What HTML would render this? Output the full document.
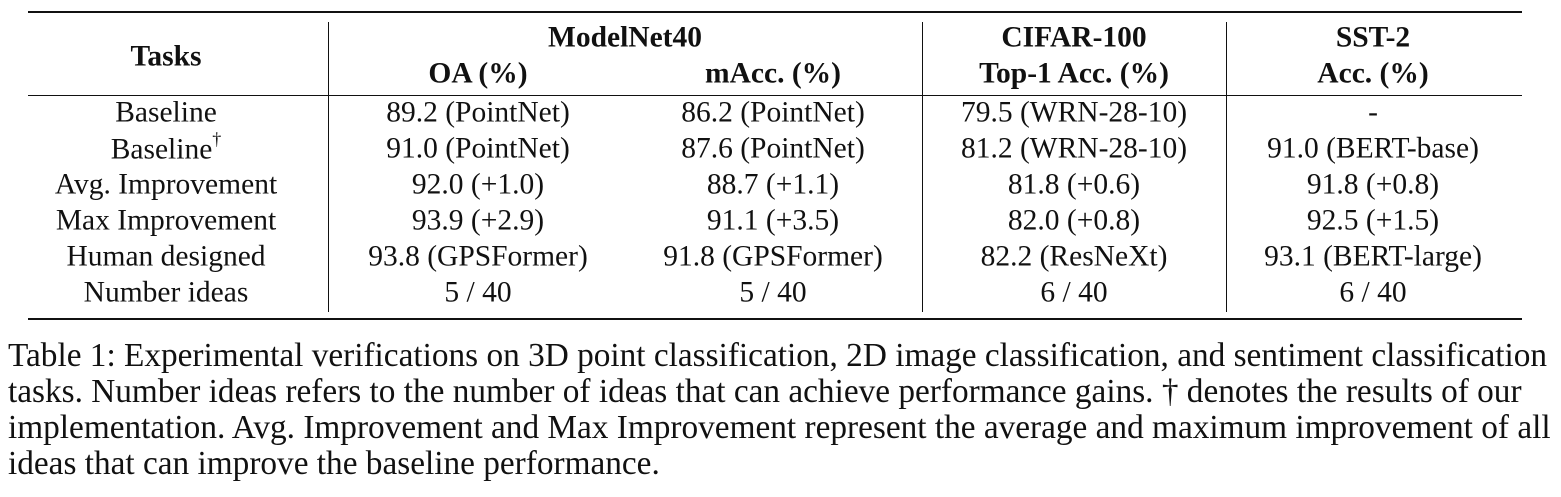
<!DOCTYPE html>
<html><head><meta charset="utf-8"><style>
body{margin:0;width:1561px;height:497px;background:#fff;position:relative;font-family:"Liberation Serif",serif;color:#111;overflow:hidden}
.t{position:absolute;font-size:29.5px;white-space:nowrap;transform:translate(-50%,-50%);line-height:1}
.b{font-weight:bold}
.r{position:absolute;background:#111}
.c{position:absolute;left:8px;font-size:33.3px;white-space:nowrap;line-height:1}
</style></head><body>
<div class="r" style="left:28px;top:11px;width:1494px;height:2px"></div>
<div class="r" style="left:28px;top:95px;width:1494px;height:1px"></div>
<div class="r" style="left:28px;top:318px;width:1494px;height:2px"></div>
<div class="r" style="left:328px;top:22px;width:1px;height:290px"></div>
<div class="r" style="left:922px;top:22px;width:1px;height:290px"></div>
<div class="r" style="left:1226px;top:22px;width:1px;height:290px"></div>
<div class="t b" style="left:166px;top:57px">Tasks</div>
<div class="t b" style="left:625px;top:38px">ModelNet40</div>
<div class="t b" style="left:1074px;top:38px">CIFAR-100</div>
<div class="t b" style="left:1373px;top:38px">SST-2</div>
<div class="t b" style="left:478px;top:74px">OA (%)</div>
<div class="t b" style="left:773px;top:74px">mAcc. (%)</div>
<div class="t b" style="left:1074px;top:74px">Top-1 Acc. (%)</div>
<div class="t b" style="left:1373px;top:74px">Acc. (%)</div>
<div id="rows"></div>
<div class="c" style="top:339px">Table 1: Experimental verifications on 3D point classification, 2D image classification, and sentiment classification</div>
<div class="c" style="top:375px">tasks. Number ideas refers to the number of ideas that can achieve performance gains. † denotes the results of our</div>
<div class="c" style="top:411px">implementation. Avg. Improvement and Max Improvement represent the average and maximum improvement of all</div>
<div class="c" style="top:447px">ideas that can improve the baseline performance.</div>
<script>
const rowLabels=["Baseline","Baseline<sup style='font-size:18px;position:relative;top:-3px'>†</sup>","Avg. Improvement","Max Improvement","Human designed","Number ideas"];
const oa=["89.2 (PointNet)","91.0 (PointNet)","92.0 (+1.0)","93.9 (+2.9)","93.8 (GPSFormer)","5 / 40"];
const macc=["86.2 (PointNet)","87.6 (PointNet)","88.7 (+1.1)","91.1 (+3.5)","91.8 (GPSFormer)","5 / 40"];
const cifar=["79.5 (WRN-28-10)","81.2 (WRN-28-10)","81.8 (+0.6)","82.0 (+0.8)","82.2 (ResNeXt)","6 / 40"];
const sst=["-","91.0 (BERT-base)","91.8 (+0.8)","92.5 (+1.5)","93.1 (BERT-large)","6 / 40"];
const cols=[[rowLabels,166,'row-label'],[oa,478,'oa-cell'],[macc,773,'macc-cell'],[cifar,1074,'cifar-cell'],[sst,1373,'sst-cell']];
const host=document.getElementById('rows');
cols.forEach(([arr,x,nm])=>arr.forEach((v,i)=>{
  const d=document.createElement('div');
  d.className='t';
  d.style.left=x+'px';
  d.style.top=(113+i*36)+'px';
  d.innerHTML=v;
  
  
  host.appendChild(d);
}));
</script>
</body></html>
